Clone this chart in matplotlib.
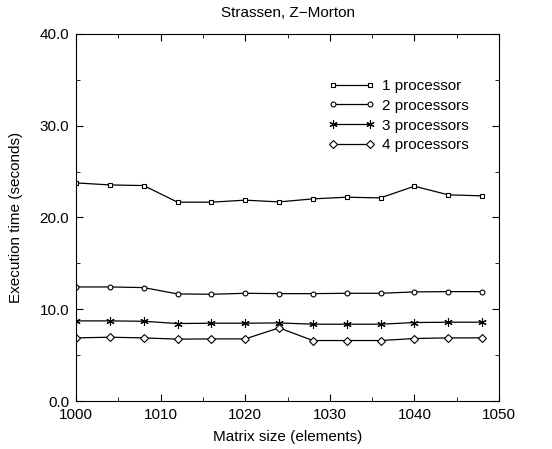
import numpy as np
import matplotlib.pyplot as plt

plt.rcParams['font.family'] = ['Liberation Sans', 'DejaVu Sans']

sizes = [1000, 1004, 1008, 1012, 1016, 1020, 1024, 1028, 1032, 1036, 1040, 1044, 1048]
p1 = [23.77, 23.55, 23.48, 21.67, 21.67, 21.89, 21.70, 22.03, 22.21, 22.14, 23.41, 22.47, 22.36]
p2 = [12.43, 12.43, 12.36, 11.67, 11.63, 11.74, 11.70, 11.70, 11.74, 11.74, 11.89, 11.92, 11.92]
p3 = [8.73, 8.73, 8.69, 8.44, 8.48, 8.48, 8.51, 8.37, 8.37, 8.37, 8.55, 8.59, 8.59]
p4 = [6.88, 6.95, 6.88, 6.74, 6.77, 6.77, 7.97, 6.59, 6.59, 6.59, 6.81, 6.88, 6.88]
labels = ['1 processor', '2 processors', '3 processors', '4 processors']

fig = plt.figure(figsize=(5.52, 4.49), dpi=100)
ax = fig.add_axes([0.1377, 0.1069, 0.7663, 0.8174])

styles = [
    dict(marker='s', markersize=3.5),
    dict(marker='o', markersize=3.5),
    dict(marker=(6, 2, 0), markersize=6),
    dict(marker='D', markersize=4),
]
for ys, lab, st in zip([p1, p2, p3, p4], labels, styles):
    ax.plot(sizes, ys, color='black', linewidth=0.9, markerfacecolor='white',
            markeredgecolor='black', markeredgewidth=0.8, label=lab, **st)

ax.set_xlim(1000, 1050)
ax.set_ylim(0, 40)
ax.set_xticks(np.arange(1000, 1051, 10))
ax.set_xticks(np.arange(1000, 1051, 5), minor=True)
ax.set_yticks(np.arange(0, 41, 10))
ax.set_yticks(np.arange(0, 41, 5), minor=True)
ax.set_yticklabels([f'{v:.1f}' for v in np.arange(0, 41, 10)])
ax.tick_params(which='both', direction='in', top=True, right=True, labelsize=11)
ax.tick_params(which='major', length=5)
ax.tick_params(which='minor', length=3)
ax.tick_params(axis='x', pad=5)
ax.tick_params(axis='y', pad=5)

ax.set_xlabel('Matrix size (elements)', fontsize=11, labelpad=6)
ax.set_ylabel('Execution time (seconds)', fontsize=11, labelpad=12)
ax.set_title('Strassen, Z\u2212Morton', fontsize=11, pad=12)

ax.legend(loc='upper left', bbox_to_anchor=(0.565, 0.915), frameon=False, numpoints=2,
          handlelength=3.0, fontsize=11, labelspacing=0.38, handletextpad=0.5)

fig.savefig('out.png', dpi=100)
